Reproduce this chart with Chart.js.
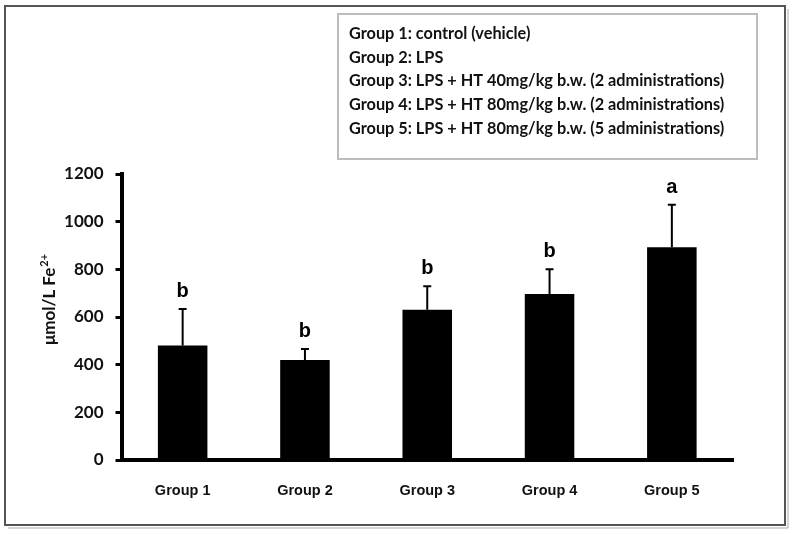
<!DOCTYPE html>
<html>
<head>
<meta charset="utf-8">
<script src="https://cdn.jsdelivr.net/npm/chart.js@4.4.1/dist/chart.umd.min.js"></script>
<style>
  html, body { margin: 0; padding: 0; background: #fff; }
  #wrap { width: 792px; height: 534px; position: relative; }
</style>
</head>
<body>
<div id="wrap"><canvas id="chart" width="792" height="534"></canvas></div>
<script>
const groups = ['Group 1', 'Group 2', 'Group 3', 'Group 4', 'Group 5'];
const means = [480, 420, 630, 697, 893];
const sd = [154, 46, 99, 103, 178];
const letters = ['b', 'b', 'b', 'b', 'a'];
const yTicks = [0, 200, 400, 600, 800, 1000, 1200];
const legendLines = [
  'Group 1: control (vehicle)',
  'Group 2: LPS',
  'Group 3: LPS + HT 40mg/kg b.w. (2 administrations)',
  'Group 4: LPS + HT 80mg/kg b.w. (2 administrations)',
  'Group 5: LPS + HT 80mg/kg b.w. (5 administrations)'
];

// frame, legend box, axis title, error bars and significance letters
const extras = {
  id: 'extras',
  beforeDraw(chart) {
    const ctx = chart.ctx;
    ctx.save();
    ctx.fillStyle = '#fff';
    ctx.fillRect(0, 0, chart.width, chart.height);
    // outer frame
    ctx.strokeStyle = '#555';
    ctx.lineWidth = 2;
    ctx.strokeRect(5, 6, 780, 519);
    ctx.strokeStyle = '#aaa';
    ctx.lineWidth = 1;
    ctx.beginPath();
    ctx.moveTo(788, 9); ctx.lineTo(788, 528); ctx.lineTo(8, 528);
    ctx.stroke();
    // legend box
    ctx.strokeStyle = '#bdbdbd';
    ctx.lineWidth = 2;
    ctx.strokeRect(338, 14, 419, 145);
    ctx.fillStyle = '#111';
    ctx.font = 'bold 16.3px Lato';
    ctx.textBaseline = 'middle';
    ctx.textAlign = 'left';
    legendLines.forEach((t, i) => ctx.fillText(t, 349, 34 + i * 23.6));
    // y axis title, rotated, with superscript charge
    ctx.translate(49, 300);
    ctx.rotate(-Math.PI / 2);
    const main = 'μmol/L Fe';
    ctx.font = 'bold 17px Lato';
    const w1 = ctx.measureText(main).width;
    ctx.font = 'bold 11px Lato';
    const w2 = ctx.measureText('2+').width;
    const x0 = -(w1 + w2) / 2;
    ctx.textBaseline = 'alphabetic';
    ctx.font = 'bold 17px Lato';
    ctx.fillText(main, x0, 6);
    ctx.font = 'bold 11px Lato';
    ctx.fillText('2+', x0 + w1 + 1, -1);
    ctx.restore();
  },
  afterDatasetsDraw(chart) {
    const ctx = chart.ctx;
    const meta = chart.getDatasetMeta(0);
    const y = chart.scales.y;
    ctx.save();
    ctx.strokeStyle = '#000';
    ctx.fillStyle = '#000';
    ctx.lineWidth = 2;
    ctx.font = 'bold 20px "Liberation Sans"';
    ctx.textAlign = 'center';
    ctx.textBaseline = 'alphabetic';
    meta.data.forEach((bar, i) => {
      const top = y.getPixelForValue(means[i] + sd[i]);
      const base = y.getPixelForValue(means[i]);
      ctx.beginPath();
      ctx.moveTo(bar.x, base);
      ctx.lineTo(bar.x, top);
      ctx.moveTo(bar.x - 4, top);
      ctx.lineTo(bar.x + 4, top);
      ctx.stroke();
      ctx.fillText(letters[i], bar.x, top - 12);
    });
    ctx.restore();
  }
};

new Chart(document.getElementById('chart'), {
  type: 'bar',
  data: {
    labels: groups,
    datasets: [{
      data: means,
      backgroundColor: '#000',
      borderWidth: 0,
      barPercentage: 0.405,
      categoryPercentage: 1
    }]
  },
  options: {
    responsive: false,
    animation: false,
    layout: { padding: { left: 0, top: 174, right: 59, bottom: 0 } },
    plugins: {
      legend: { display: false },
      tooltip: { enabled: false }
    },
    scales: {
      x: {
        grid: { display: false, drawTicks: false },
        border: { display: true, color: '#000', width: 4 },
        ticks: {
          color: '#111',
          padding: 22,
          font: { family: '"Liberation Sans"', size: 14.5, weight: 'bold' }
        },
        afterFit(scale) { scale.height = 74; }
      },
      y: {
        min: 0,
        max: 1200,
        afterBuildTicks(scale) { scale.ticks = yTicks.map(v => ({ value: v })); },
        grid: { display: true, drawOnChartArea: false, drawTicks: true, tickLength: 6, color: '#000', lineWidth: 3 },
        border: { display: true, color: '#000', width: 4 },
        ticks: {
          color: '#111',
          padding: 12,
          font: { family: 'Lato', size: 17, weight: 'bold' },
          callback: v => String(v)
        },
        afterFit(scale) { scale.width = 121.5; }
      }
    }
  },
  plugins: [extras]
});
</script>
</body>
</html>
